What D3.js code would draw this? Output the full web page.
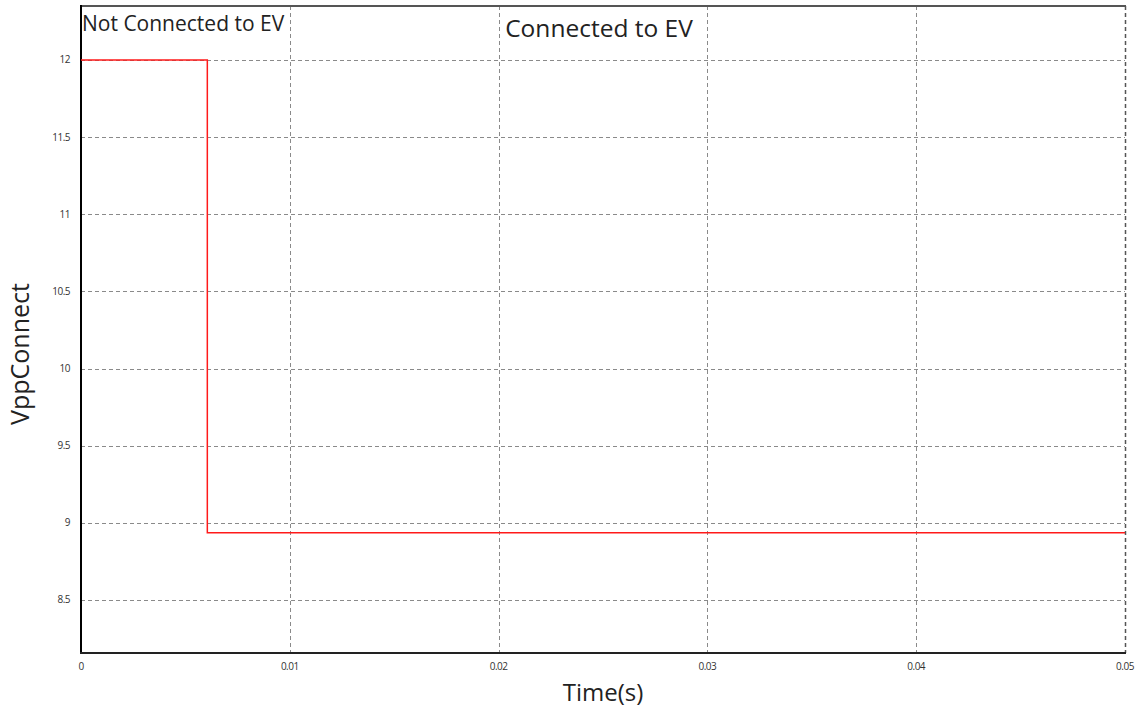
<!DOCTYPE html>
<html>
<head>
<meta charset="utf-8">
<script src="https://cdn.jsdelivr.net/npm/d3@7"></script>
<style>
  body { margin: 0; background: #fff; }
  text { font-family: "Open Sans", "Noto Sans", sans-serif; }
</style>
</head>
<body>
<div id="chart"></div>
<script>
// signal (step): time in s, VppConnect in V
var times = [0, 0.00605, 0.05];
var values = [12, 8.935, 8.935];

var xTicks = [0, 0.01, 0.02, 0.03, 0.04, 0.05];
var yTicks = [8.5, 9, 9.5, 10, 10.5, 11, 11.5, 12];

var width = 1139,
	height = 709;
var pLeft = 81, pRight = 1125,
	pTop = 6, pBottom = 653;

var svg = d3.select("#chart")
	.append("svg")
	.attr("width", width)
	.attr("height", height);

var x = d3.scaleLinear().domain([0, 0.05]).range([pLeft, pRight]);
var y = d3.scaleLinear().domain([8.156, 12.35]).range([pBottom, pTop]);

// grid
svg.append("g")
	.selectAll("line")
	.data(yTicks)
	.enter().append("line")
	.attr("x1", pLeft).attr("x2", pRight)
	.attr("y1", function(d) { return Math.round(y(d)) + 0.5; })
	.attr("y2", function(d) { return Math.round(y(d)) + 0.5; })
	.attr("stroke", "#8a8a8a")
	.attr("stroke-dasharray", "4,3");
svg.append("g")
	.selectAll("line")
	.data(xTicks.slice(1))
	.enter().append("line")
	.attr("x1", function(d) { return Math.round(x(d)) + 0.5; })
	.attr("x2", function(d) { return Math.round(x(d)) + 0.5; })
	.attr("y1", pTop).attr("y2", pBottom)
	.attr("stroke", function(d) { return d == 0.05 ? "#555" : "#8a8a8a"; })
	.attr("stroke-width", function(d) { return d == 0.05 ? 1.5 : 1; })
	.attr("stroke-dasharray", "4,3");

// frame
svg.append("line")
	.attr("x1", pLeft).attr("x2", pRight + 1)
	.attr("y1", pTop).attr("y2", pTop)
	.attr("stroke", "#555").attr("stroke-width", 2);
svg.append("line")
	.attr("x1", pLeft).attr("x2", pLeft)
	.attr("y1", pTop - 1).attr("y2", pBottom + 1)
	.attr("stroke", "#000").attr("stroke-width", 2);
svg.append("line")
	.attr("x1", pLeft - 1).attr("x2", pRight + 1)
	.attr("y1", pBottom).attr("y2", pBottom)
	.attr("stroke", "#222").attr("stroke-width", 2);

// tick labels
svg.append("g")
	.selectAll("text")
	.data(yTicks)
	.enter().append("text")
	.attr("x", pLeft - 11)
	.attr("y", function(d) { return y(d) + 3.5; })
	.style("text-anchor", "end")
	.style("font-size", "10px")
	.style("letter-spacing", "-0.5px")
	.attr("fill", "#333")
	.text(function(d) { return d; });
svg.append("g")
	.selectAll("text")
	.data(xTicks)
	.enter().append("text")
	.attr("x", function(d) { return x(d); })
	.attr("y", pBottom + 17)
	.style("text-anchor", "middle")
	.style("font-size", "10px")
	.style("letter-spacing", "-0.5px")
	.attr("fill", "#333")
	.text(function(d) { return d; });

// line
var line = d3.line()
	.x(function(d, i) { return x(times[i]); })
	.y(function(d) { return y(d); })
	.curve(d3.curveStepAfter);
svg.append("path")
	.datum(values)
	.attr("d", line)
	.attr("stroke", "#ff1a1a")
	.attr("stroke-width", 1.5)
	.attr("fill", "none");

// labels
svg.append("text")
	.attr("x", 82)
	.attr("y", 31)
	.style("font-size", "21px")
	.attr("fill", "#222")
	.text("Not Connected to EV");
svg.append("text")
	.attr("x", 599)
	.attr("y", 37)
	.style("text-anchor", "middle")
	.style("font-size", "24.5px")
	.attr("fill", "#222")
	.text("Connected to EV");
svg.append("text")
	.attr("x", 603)
	.attr("y", 701)
	.style("text-anchor", "middle")
	.style("font-size", "24px")
	.attr("fill", "#222")
	.text("Time(s)");
svg.append("text")
	.attr("transform", "translate(29,354) rotate(-90)")
	.style("text-anchor", "middle")
	.style("font-size", "25px")
	.attr("fill", "#222")
	.text("VppConnect");
</script>
</body>
</html>
